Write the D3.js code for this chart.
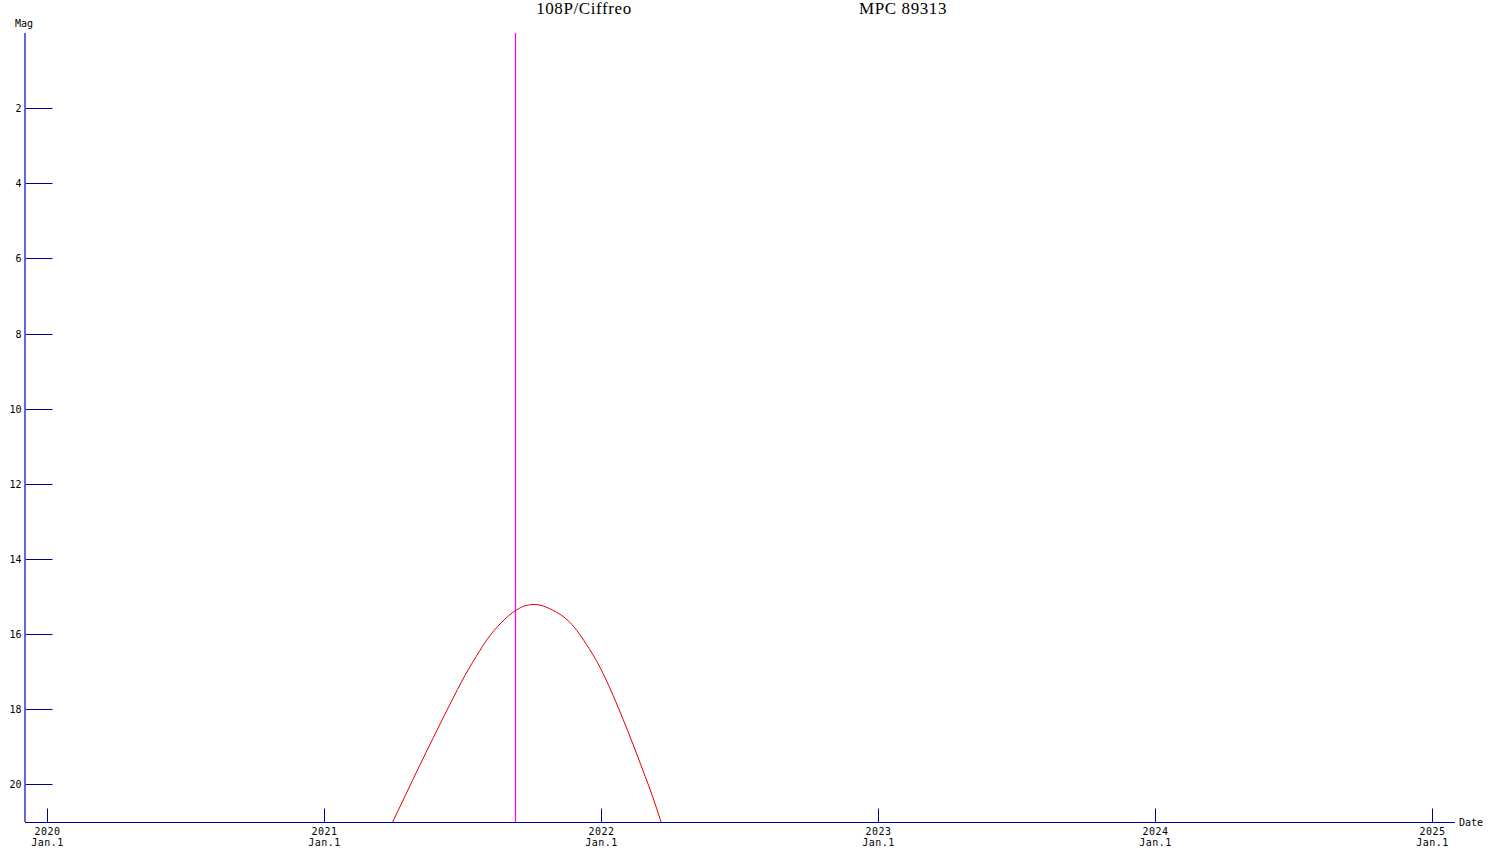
<!DOCTYPE html>
<html>
<head>
<meta charset="utf-8">
<script src="https://cdn.jsdelivr.net/npm/d3@7"></script>
<style>
body { margin: 0; background: #fff; }
svg { display: block; }
.tick text { font-family: "DejaVu Sans Mono", monospace; font-size: 10px; fill: #000; }
</style>
</head>
<body>
<div id="chart"></div>
<script>
// comet and chart text
var cometName = "108P/Ciffreo";
var mpcRef = "MPC 89313";

// light curve (date, magnitude)
var curveDates = ["2021-04-01", "2021-04-18", "2021-05-06", "2021-05-24", "2021-06-08",
    "2021-06-21", "2021-06-30", "2021-07-11", "2021-07-20", "2021-08-04", "2021-08-22",
    "2021-09-11", "2021-09-22", "2021-10-05", "2021-10-29", "2021-11-20", "2021-12-16",
    "2021-12-25", "2022-01-06", "2022-01-17", "2022-01-30", "2022-02-12", "2022-02-25",
    "2022-03-10", "2022-03-21"];
var curveMags = [21.0, 20.28, 19.52, 18.78, 18.17,
    17.65, 17.30, 16.90, 16.60, 16.13, 15.70,
    15.36, 15.25, 15.21, 15.36, 15.67, 16.38,
    16.68, 17.15, 17.64, 18.27, 18.93, 19.62,
    20.33, 21.0];

// perihelion marker
var perihelionDate = "2021-09-10";

// axis ticks
var yearTicks = ["2020-01-01", "2021-01-01", "2022-01-01", "2023-01-01", "2024-01-01", "2025-01-01"];
var magTicks = [2, 4, 6, 8, 10, 12, 14, 16, 18, 20];

var parse = d3.timeParse("%Y-%m-%d");
var width = 1500, height = 857;

var svg = d3.select("#chart").append("svg")
    .attr("width", width)
    .attr("height", height);

// scales (axis origin sits a bit before 2020 Jan.1)
var x = d3.scaleTime()
    .domain([parse("2020-01-01"), parse("2025-01-01")])
    .range([47, 1432]);
var y = d3.scaleLinear()
    .domain([0, 21])
    .range([33, 822]);

var x0 = 25, x1 = 1455, y0 = 33, y1 = 822;

// title
svg.append("text")
    .attr("x", 584).attr("y", 14)
    .attr("text-anchor", "middle")
    .style("font-family", "'Liberation Serif', serif")
    .style("font-size", "17px")
    .style("letter-spacing", "0.6px")
    .text(cometName);
svg.append("text")
    .attr("x", 903).attr("y", 14)
    .attr("text-anchor", "middle")
    .style("font-family", "'Liberation Serif', serif")
    .style("font-size", "17px")
    .style("letter-spacing", "0.6px")
    .text(mpcRef);

// Y axis
var yAxis = d3.axisLeft(y)
    .tickValues(magTicks)
    .tickSizeInner(-27)
    .tickSizeOuter(0)
    .tickPadding(4)
    .tickFormat(d3.format("d"));

var gy = svg.append("g")
    .attr("transform", "translate(" + (x0 + 0.5) + ",0)")
    .call(yAxis);
gy.select(".domain").remove();
gy.selectAll(".tick line").attr("stroke", "#000090");
gy.selectAll(".tick").attr("transform", function(d) { return "translate(0," + (Math.round(y(d)) + 0.5) + ")"; });

svg.append("line")
    .attr("x1", x0).attr("x2", x0)
    .attr("y1", y0).attr("y2", y1)
    .attr("stroke", "#4040d0")
    .attr("stroke-width", 1.6);

svg.append("text")
    .attr("x", 15).attr("y", 27)
    .style("font-family", "'DejaVu Sans Mono', monospace")
    .style("font-size", "10px")
    .text("Mag");

// X axis
var xAxis = d3.axisBottom(x)
    .tickValues(yearTicks.map(parse))
    .tickSizeInner(-14)
    .tickSizeOuter(0)
    .tickPadding(4)
    .tickFormat("");

var gx = svg.append("g")
    .attr("transform", "translate(0," + (y1 + 0.5) + ")")
    .call(xAxis);
gx.select(".domain").remove();
gx.selectAll(".tick line").attr("stroke", "#000090");
gx.selectAll(".tick").attr("transform", function(d) { return "translate(" + (Math.round(x(d)) + 0.5) + ",0)"; });
gx.selectAll(".tick text").remove();
gx.selectAll(".tick").append("text")
    .attr("text-anchor", "middle")
    .attr("y", 12)
    .style("letter-spacing", "0.5px")
    .text(function(d) { return d.getFullYear(); });
gx.selectAll(".tick").append("text")
    .attr("text-anchor", "middle")
    .attr("y", 23)
    .style("letter-spacing", "0.5px")
    .text("Jan.1");

svg.append("line")
    .attr("x1", x0).attr("x2", x1)
    .attr("y1", y1 + 0.5).attr("y2", y1 + 0.5)
    .attr("stroke", "#000090");

svg.append("text")
    .attr("x", 1459).attr("y", 826)
    .style("font-family", "'DejaVu Sans Mono', monospace")
    .style("font-size", "10px")
    .text("Date");

// perihelion line
var px = Math.round(x(parse(perihelionDate))) + 0.5;
svg.append("line")
    .attr("x1", px).attr("x2", px)
    .attr("y1", y0).attr("y2", y1)
    .style("stroke", "#ff00ff")
    .style("stroke-width", 1.2);

// light curve
var curve = curveDates.map(function(d, i) { return {date: parse(d), mag: curveMags[i]}; });
var line = d3.line()
    .x(function(d) { return x(d.date); })
    .y(function(d) { return y(d.mag); })
    .curve(d3.curveMonotoneX);

svg.append("path")
    .attr("d", line(curve))
    .attr("fill", "none")
    .attr("stroke", "#e00000")
    .attr("stroke-width", 1);
</script>
</body>
</html>
